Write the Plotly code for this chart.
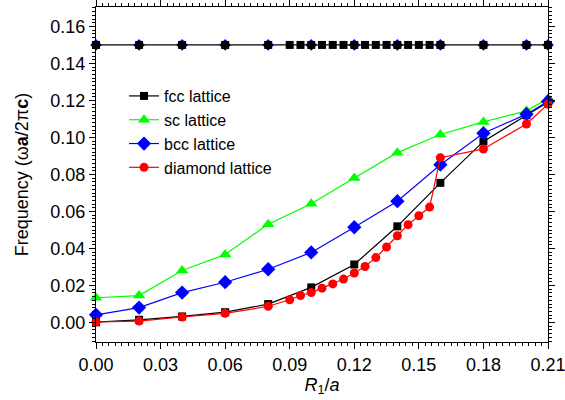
import plotly.graph_objects as go

# ---- data ----
fcc_x = [0.00, 0.02, 0.04, 0.06, 0.08, 0.10, 0.12, 0.14, 0.16, 0.18, 0.20, 0.21]
fcc_y = [0.0002, 0.0015, 0.0033, 0.0056, 0.0100, 0.0190, 0.0314, 0.0520, 0.0755, 0.0979, 0.1120, 0.1190]

sc_x = [0.00, 0.02, 0.04, 0.06, 0.08, 0.10, 0.12, 0.14, 0.16, 0.18, 0.20, 0.21]
sc_y = [0.0134, 0.0146, 0.0281, 0.0368, 0.0531, 0.0642, 0.0781, 0.0918, 0.1016, 0.1084, 0.1144, 0.1210]

bcc_x = [0.00, 0.02, 0.04, 0.06, 0.08, 0.10, 0.12, 0.14, 0.16, 0.18, 0.20, 0.21]
bcc_y = [0.0042, 0.0081, 0.0162, 0.0218, 0.0288, 0.0379, 0.0515, 0.0656, 0.0853, 0.1023, 0.1126, 0.1195]

dia_x = [0.00, 0.02, 0.04, 0.06, 0.08, 0.09, 0.095, 0.10, 0.105, 0.11, 0.115, 0.12,
         0.125, 0.13, 0.135, 0.14, 0.145, 0.15, 0.155, 0.16, 0.18, 0.20, 0.21]
dia_y = [0.0003, 0.0008, 0.0030, 0.0050, 0.0088, 0.0123, 0.0146, 0.0162, 0.0186, 0.0209,
         0.0235, 0.0268, 0.0303, 0.0351, 0.0408, 0.0469, 0.0529, 0.0577, 0.0624, 0.0891,
         0.0938, 0.1073, 0.1180]

# upper band line (constant)
top_x = dia_x
top_y = [0.15] * len(dia_x)
top_bcc_x = bcc_x
top_bcc_y = [0.15] * len(bcc_x)

x_ticks = [0.00, 0.03, 0.06, 0.09, 0.12, 0.15, 0.18, 0.21]
x_ticklabels = ["0.00", "0.03", "0.06", "0.09", "0.12", "0.15", "0.18", "0.21"]
y_ticks = [0.00, 0.02, 0.04, 0.06, 0.08, 0.10, 0.12, 0.14, 0.16]
y_ticklabels = ["0.00", "0.02", "0.04", "0.06", "0.08", "0.10", "0.12", "0.14", "0.16"]

FONT = "Liberation Sans, Arial, sans-serif"

fig = go.Figure()

# top constant line: blue diamonds under black squares
fig.add_trace(go.Scatter(x=top_bcc_x, y=top_bcc_y, mode="markers",
                         marker=dict(symbol="diamond", size=9, color="#0000ff"),
                         line=dict(color="#0000ff", width=1), showlegend=False, cliponaxis=False))
fig.add_trace(go.Scatter(x=top_x, y=top_y, mode="lines+markers",
                         marker=dict(symbol="square", size=8, color="black"),
                         line=dict(color="black", width=1.2), showlegend=False, cliponaxis=False))

fig.add_trace(go.Scatter(x=fcc_x, y=fcc_y, mode="lines+markers", name="fcc lattice",
                         marker=dict(symbol="square", size=8, color="black"),
                         line=dict(color="black", width=1.2), cliponaxis=False))
fig.add_trace(go.Scatter(x=sc_x, y=sc_y, mode="lines+markers", name="sc lattice",
                         marker=dict(symbol="triangle-up", size=11, color="#00ff00"),
                         line=dict(color="#00ff00", width=1.2), cliponaxis=False))
fig.add_trace(go.Scatter(x=bcc_x, y=bcc_y, mode="lines+markers", name="bcc lattice",
                         marker=dict(symbol="diamond", size=11, color="#0000ff"),
                         line=dict(color="#0000ff", width=1.2), cliponaxis=False))
fig.add_trace(go.Scatter(x=dia_x, y=dia_y, mode="lines+markers", name="diamond lattice",
                         marker=dict(symbol="circle", size=9, color="#ff0000"),
                         line=dict(color="#ff0000", width=1.2), cliponaxis=False))

fig.update_layout(
    width=565, height=400,
    margin=dict(l=96, r=17, t=7, b=58),
    paper_bgcolor="white", plot_bgcolor="white",
    font=dict(family=FONT, size=18, color="black"),
    legend=dict(x=0.062, y=0.785, xanchor="left", yanchor="top",
                bgcolor="rgba(0,0,0,0)", font=dict(size=16),
                itemwidth=30, tracegroupgap=0),
    xaxis=dict(range=[-0.0000001, 0.2100001], tickvals=x_ticks, ticktext=x_ticklabels,
               showgrid=False, zeroline=False, showline=True, linecolor="black",
               linewidth=1.2, mirror="allticks", ticks="outside", ticklen=6,
               tickcolor="black", tickfont=dict(size=18), automargin=False,
               ticklabeloverflow="allow",
               minor=dict(dtick=0.003, ticks="outside", ticklen=3, tickcolor="black"),
               title=dict(text="<i>R</i><sub>1</sub>/<i>a</i>", font=dict(size=18), standoff=2)),
    yaxis=dict(range=[-0.0105, 0.1705], tickvals=y_ticks, ticktext=y_ticklabels,
               showgrid=False, zeroline=False, showline=True, linecolor="black",
               linewidth=1.2, mirror="allticks", ticks="outside", ticklen=6,
               tickcolor="black", tickfont=dict(size=18), automargin=False,
               ticklabeloverflow="allow",
               minor=dict(dtick=0.002, ticks="outside", ticklen=3, tickcolor="black"),
               title=dict(text="Frequency (ω<b>a</b>/2π<b>c</b>)", font=dict(size=18), standoff=16)),
)

fig.write_html("out.html")
